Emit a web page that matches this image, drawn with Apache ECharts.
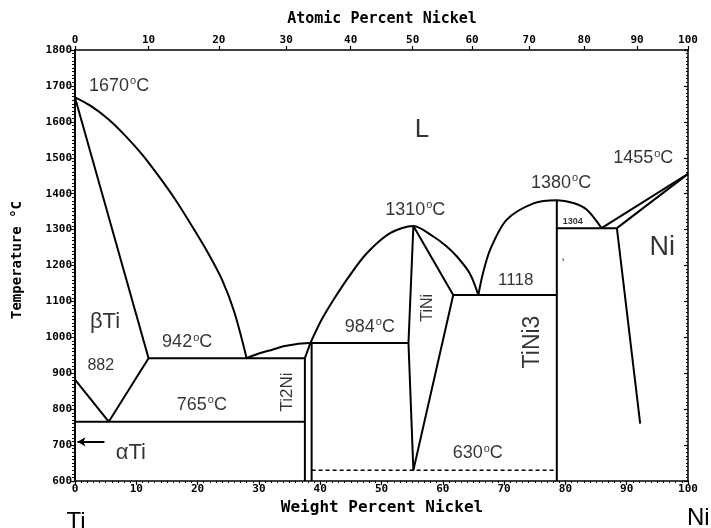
<!DOCTYPE html>
<html><head><meta charset="utf-8">
<script src="https://cdn.jsdelivr.net/npm/echarts@6/dist/echarts.min.js"></script>
<style>html,body{margin:0;padding:0;background:#fff}#c{width:711px;height:528px}</style>
</head><body><div id="c"></div>
<script>
// ---------- data ----------
const weightTicks = [0,10,20,30,40,50,60,70,80,90,100];
const atomicTicks = [0,10,20,30,40,50,60,70,80,90,100];
const tempRange = [600, 1800];

const liquidusTi   = [[0,1668],[2.5,1645],[5.4,1608],[8,1565],[10.9,1510],[13.6,1450],[16.3,1385],[19,1312],[21.7,1235],[24,1160],[26,1070],[28,942]];
const solidusBeta  = [[0,1668],[12,942]];
const transusBeta  = [[0,882],[5.5,765]];
const solvusBeta   = [[5.5,765],[12,942]];
const eutectic942  = [[12,942],[37.5,942]];
const eutectoid765 = [[0,765],[37.5,765]];
const alphaArrow   = [[0.4,709],[4.8,709]];
const liquidusTi2Ni= [[28,942],[30,955],[32.3,966],[34,975],[36,981],[38.4,984]];
const ti2NiLeft    = [[37.5,600],[37.5,942],[38.4,984]];
const ti2NiRight   = [[38.6,600],[38.6,984]];
const peritectic984= [[38.4,984],[54.4,984]];
const liquidusTiNi = [[38.4,984],[40.2,1048],[42.3,1108],[44.8,1172],[47.6,1234],[51.4,1290],[55.2,1310],[58.5,1280],[60.5,1255],[62.3,1225],[64.4,1178],[65.8,1118]];
const tiNiLeft     = [[55.2,1310],[54.4,984],[55.2,630]];
const tiNiRight    = [[55.2,1310],[61.7,1118],[55.2,630]];
const eutectic1118 = [[61.7,1118],[78.6,1118]];
const tiNi3Line    = [[78.6,600],[78.6,1380]];
const liquidusTiNi3= [[65.8,1118],[66.5,1175],[67.7,1243],[70.4,1327],[74.8,1373],[78.6,1382],[81.3,1374],[83.5,1355],[85.9,1304]];
const eutectic1304 = [[78.6,1304],[88.4,1304]];
const liquidusNi   = [[85.9,1304],[100,1455]];
const solidusNi    = [[88.4,1304],[100,1455]];
const solvusNi     = [[88.4,1304],[92.2,760]];
const eutectoid630 = [[38.6,630],[78.6,630]];

const annotationText = ['1670{o|o}C','L','1455{o|o}C','1380{o|o}C','1310{o|o}C','1304','Ni',',',
  'βTi','942{o|o}C','882','765{o|o}C','Ti2Ni','αTi','984{o|o}C','TiNi','1118','TiNi3','630{o|o}C'];
const annotationAt = [[7.2,1700],[56.6,1577],[92.7,1499],[79.3,1430],[55.5,1355],[81.2,1323],[95.8,1249],[79.6,1226],
  [4.9,1043],[18.3,987],[4.2,920],[20.7,812],[34.6,848],[9.1,678],[48.1,1030],[57.6,1082],[71.9,1160],[74.7,987],[65.7,678]];

// ---------- styles ----------
const MTi = 47.867, MNi = 58.693;
function atToWt(a){ return 100*a*MNi/(a*MNi+(100-a)*MTi); }
const labelSize = {'L':26,'Ni':27,'βTi':22,'αTi':22,'882':16,'1118':17,'Ti2Ni':17,'TiNi':16,'TiNi3':23,'1304':9,',':13};
const labelRotate = {'Ti2Ni':90,'TiNi':90,'TiNi3':90};

const black = '#000';
function seg(data, extra){
  return Object.assign({type:'line', data:data, showSymbol:false, symbol:'none', silent:true,
    lineStyle:{color:black, width:2}, animation:false, z:3}, extra||{});
}
const curve = {smooth:0.3};

const series = [
  seg(liquidusTi, curve), seg(solidusBeta), seg(transusBeta), seg(solvusBeta),
  seg(eutectic942), seg(eutectoid765), seg(liquidusTi2Ni, curve), seg(ti2NiLeft), seg(ti2NiRight),
  seg(peritectic984), seg(liquidusTiNi, curve), seg(tiNiLeft), seg(tiNiRight), seg(eutectic1118),
  seg(tiNi3Line), seg(liquidusTiNi3, curve), seg(eutectic1304), seg(liquidusNi), seg(solidusNi),
  seg(solvusNi), seg(eutectoid630, {lineStyle:{color:black, width:1.5, type:[4,3]}}),
  {type:'line', data:[], silent:true, animation:false,
   markLine:{silent:true, animation:false, symbol:['arrow','none'], symbolSize:[7,8],
     lineStyle:{color:black, width:2, type:'solid'}, label:{show:false},
     data:[[{coord:alphaArrow[0]},{coord:alphaArrow[1]}]]}},
  {type:'scatter', symbolSize:0, silent:true, animation:false, z:5,
   data: annotationText.map((t,i)=>{
     const plain = t.replace(/\{o\|o\}/,'');
     const fs = labelSize[plain] || 18;
     return {value: annotationAt[i], label:{show:true, position:'inside', formatter:t,
       fontFamily:'Liberation Sans', fontSize:fs, fontWeight: plain==='1304'?'bold':'normal',
       color:black, rotate: labelRotate[plain]||0, lineHeight: fs+2,
       rich:{o:{fontSize:11, verticalAlign:'top', lineHeight:12, fontFamily:'Liberation Sans', color:black, padding:[0,0,0,1]}}}};
   })}
];

const tickFont = {fontFamily:'DejaVu Sans Mono', fontWeight:'bold', fontSize:11, color:black};
const option = {
  animation:false,
  backgroundColor:'#fff',
  grid:{left:75, right:23, top:50, bottom:47, containLabel:false},
  xAxis:[
    {type:'value', position:'bottom', min:0, max:100, interval:10,
     axisLine:{show:true, onZero:false, lineStyle:{color:black, width:1.5}},
     axisTick:{show:true, length:4, lineStyle:{color:black, width:1.2}},
     minorTick:{show:true, splitNumber:10, length:2, lineStyle:{color:black, width:1}},
     axisLabel:Object.assign({margin:3, formatter:v=>String(v)}, tickFont),
     splitLine:{show:false}, minorSplitLine:{show:false}},
    {type:'value', position:'top', min:0, max:100,
     axisLine:{show:true, onZero:false, lineStyle:{color:black, width:1.5}},
     axisTick:{show:true, length:4, customValues: atomicTicks.map(atToWt), lineStyle:{color:black, width:1.2}},
     axisLabel:Object.assign({margin:4, customValues: atomicTicks.map(atToWt),
       formatter:function(v){ let best=atomicTicks[0], d=1e9; atomicTicks.forEach(a=>{const e=Math.abs(atToWt(a)-v); if(e<d){d=e;best=a;}}); return String(best);} }, tickFont),
     splitLine:{show:false}}
  ],
  yAxis:[
    {type:'value', position:'left', min:tempRange[0], max:tempRange[1], interval:100,
     axisLine:{show:true, onZero:false, lineStyle:{color:black, width:2}},
     axisTick:{show:true, length:5, lineStyle:{color:black, width:1.2}},
     minorTick:{show:true, splitNumber:10, length:3, lineStyle:{color:black, width:1}},
     axisLabel:Object.assign({margin:3, formatter:v=>String(v)}, tickFont),
     splitLine:{show:false}, minorSplitLine:{show:false}},
    {type:'value', position:'right', min:tempRange[0], max:tempRange[1], interval:100,
     axisLine:{show:true, onZero:false, lineStyle:{color:black, width:1.5}},
     axisTick:{show:true, inside:true, length:4, lineStyle:{color:black, width:1.2}},
     minorTick:{show:true, splitNumber:10, length:2, lineStyle:{color:black, width:1}},
     axisLabel:{show:false}, splitLine:{show:false}}
  ],
  graphic:[
    {type:'text', x:382, y:19, style:{text:'Atomic Percent Nickel', align:'center', verticalAlign:'middle', font:'bold 15px "DejaVu Sans Mono"', fill:black}},
    {type:'text', x:382, y:508, style:{text:'Weight Percent Nickel', align:'center', verticalAlign:'middle', font:'bold 16px "DejaVu Sans Mono"', fill:black}},
    {type:'text', x:17, y:260, rotation:Math.PI/2, style:{text:'Temperature °C', align:'center', verticalAlign:'middle', font:'bold 14px "DejaVu Sans Mono"', fill:black}},
    {type:'text', x:76, y:522, style:{text:'Ti', align:'center', verticalAlign:'middle', font:'24px "Liberation Sans"', fill:black}},
    {type:'text', x:687, y:518, style:{text:'Ni', align:'left', verticalAlign:'middle', font:'24px "Liberation Sans"', fill:black}}
  ],
  series: series
};
const chart = echarts.init(document.getElementById('c'), null, {renderer:'canvas'});
chart.setOption(option);
</script></body></html>
